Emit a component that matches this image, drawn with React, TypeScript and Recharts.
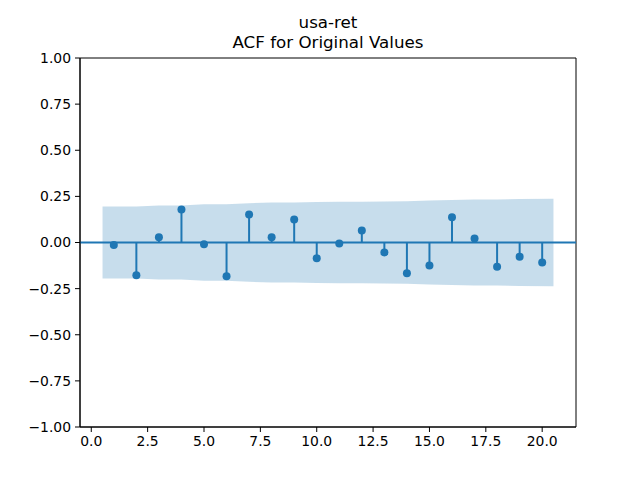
import { ComposedChart, Area, Scatter, ErrorBar, XAxis, YAxis, ReferenceLine, ReferenceArea } from 'recharts'

const BLUE = '#1f77b4'
const FONT = 'DejaVu Sans, sans-serif'

const TITLE_LINES = ['usa-ret', 'ACF for Original Values']

// lags and autocorrelations
const LAGS = [1, 2, 3, 4, 5, 6, 7, 8, 9, 10, 11, 12, 13, 14, 15, 16, 17, 18, 19, 20]
const ACF_VALUES = [
  -0.014, -0.178, 0.029, 0.179, -0.009, -0.183, 0.152, 0.029, 0.125, -0.086,
  -0.005, 0.065, -0.054, -0.167, -0.124, 0.137, 0.022, -0.131, -0.077, -0.108,
]

// confidence band (first/last lag shifted by half a step, like statsmodels)
const BAND_LAGS = [0.5, 2, 3, 4, 5, 6, 7, 8, 9, 10, 11, 12, 13, 14, 15, 16, 17, 18, 19, 20.5]
const BAND_UPPER = [
  0.195, 0.195, 0.201, 0.201, 0.207, 0.207, 0.213, 0.217, 0.217, 0.220,
  0.221, 0.221, 0.222, 0.223, 0.227, 0.230, 0.233, 0.233, 0.236, 0.237,
]

const X_TICKS = [0, 2.5, 5, 7.5, 10, 12.5, 15, 17.5, 20]
const Y_TICKS = [-1, -0.75, -0.5, -0.25, 0, 0.25, 0.5, 0.75, 1]

const acfData = LAGS.map((lag, i) => {
  const v = ACF_VALUES[i]
  return { lag, acf: v, stem: v >= 0 ? [v, 0] : [0, -v] }
})

const bandData = BAND_LAGS.map((lag, i) => ({ lag, band: [-BAND_UPPER[i], BAND_UPPER[i]] }))

const fmtY = (v: number) => v.toFixed(2).replace('-', '\u2212')
const fmtX = (v: number) => v.toFixed(1)

const tickStyle = { fill: '#000', fontSize: 13.9, fontFamily: FONT }

export default function App() {
  return (
    <div style={{ position: 'absolute', left: 0, top: 0, width: 640, height: 480, background: '#fff' }}>
      <svg width={640} height={480} style={{ position: 'absolute', left: 0, top: 0 }}>
        {TITLE_LINES.map((t, i) => (
          <text key={t} x={328} y={28 + i * 20} textAnchor="middle" fontFamily={FONT} fontSize={16.7} fill="#000">
            {t}
          </text>
        ))}
      </svg>
      <div style={{ position: 'absolute', left: 0, top: 0 }}>
        <ComposedChart width={640} height={480} margin={{ top: 58, right: 64, bottom: 0, left: 0 }}>
          <XAxis
            dataKey="lag"
            type="number"
            domain={[-0.5, 21.5]}
            ticks={X_TICKS}
            tickFormatter={fmtX}
            allowDataOverflow
            height={53}
            tick={tickStyle}
            tickSize={5}
            tickMargin={4}
            stroke="#000"
            axisLine={{ stroke: '#000' }}
            tickLine={{ stroke: '#000' }}
          />
          <YAxis
            type="number"
            domain={[-1, 1]}
            ticks={Y_TICKS}
            tickFormatter={fmtY}
            allowDataOverflow
            width={80}
            tick={tickStyle}
            tickSize={5}
            tickMargin={4}
            axisLine={{ stroke: '#000' }}
            tickLine={{ stroke: '#000' }}
          />
          <Area
            data={bandData}
            dataKey="band"
            type="linear"
            stroke="none"
            fill={BLUE}
            fillOpacity={0.25}
            isAnimationActive={false}
          />
          <ReferenceLine y={0} stroke={BLUE} strokeWidth={2} />
          <Scatter data={acfData} dataKey="acf" fill={BLUE} isAnimationActive={false} shape={(p: any) => <circle cx={p.cx} cy={p.cy} r={4} fill={BLUE} />}>
            <ErrorBar dataKey="stem" direction="y" width={0} stroke={BLUE} strokeWidth={2} />
          </Scatter>
          <ReferenceArea x1={-0.5} x2={21.5} y1={-1} y2={1} fill="none" stroke="#000" strokeWidth={1} ifOverflow="visible" />
        </ComposedChart>
      </div>
    </div>
  )
}
